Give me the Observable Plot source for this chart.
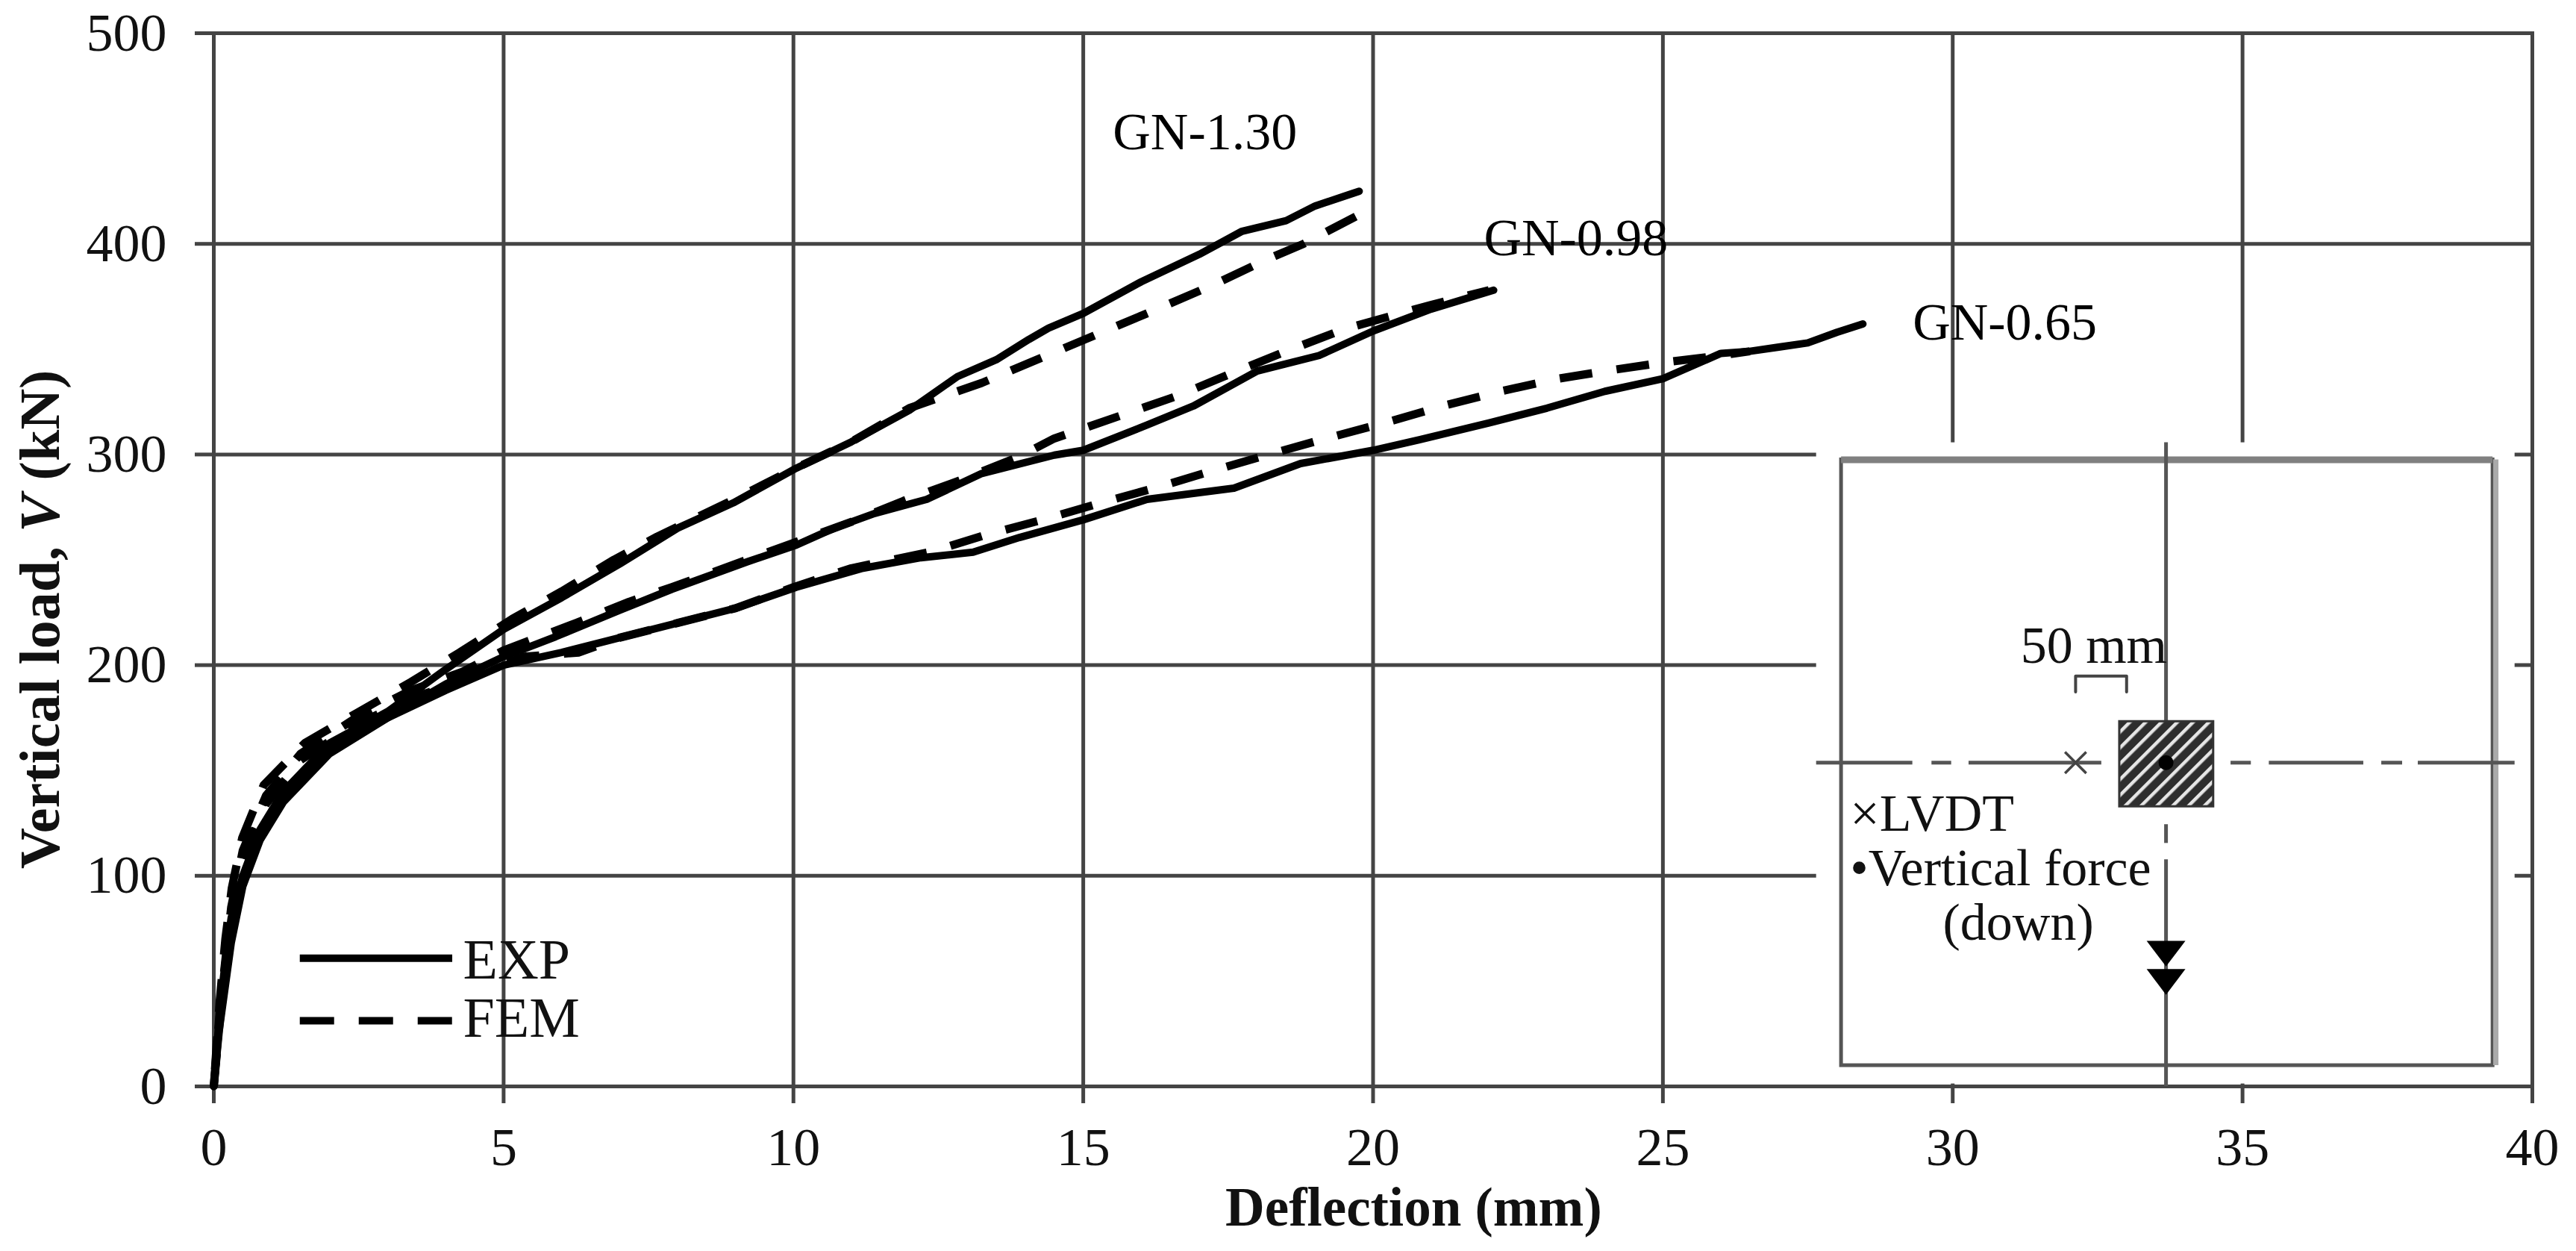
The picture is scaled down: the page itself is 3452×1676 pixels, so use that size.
<!DOCTYPE html>
<html>
<head>
<meta charset="utf-8">
<script src="https://cdn.jsdelivr.net/npm/d3@7"></script>
<script src="https://cdn.jsdelivr.net/npm/@observablehq/plot@0.6"></script>
<style>
html,body{margin:0;padding:0;background:#fff;overflow:hidden}
svg{display:block}
</style>
</head>
<body>
<div id="chart"></div>
<script>
const xTicks = [0,5,10,15,20,25,30,35,40];
const yTicks = [0,100,200,300,400,500];

const exp130X = [0,0.1,0.2,0.3,0.5,0.8,1.2,2,3,3.95,5,6,7,8,8.96,10.05,11,12,12.83,13.5,14.06,14.4,15,16,17,17.74,18.5,19,19.76];
const exp130Y = [0,35,60,80,100,122,140,163,178,197,217,232,248,265,277,293.5,306,321,337,345,354.6,360,367,382,395,406,411,418,425];
const fem130X = [0,0.1,0.2,0.31,0.49,0.86,1.57,2.45,3.4,4.24,5.15,6,6.9,7.65,9,10,11,12,13.25,14.2,15.2,16.1,17.2,18.2,18.8,19.7];
const fem130Y = [0,40,70,94,118,143,163,177,192,206,222,235,250,261,279,293,306,322,334,345,356.6,367,380,393,400,413];

const exp098X = [0,0.1,0.3,0.5,0.8,1.2,2,3,4,5,5.9,7,7.9,9.2,10.05,10.7,11.4,12.3,13.25,14.5,15,16.1,16.9,18,19.07,20,21,22.08];
const exp098Y = [0,30,70,98,120,138,160,175,191,204,213.5,226,236,249,257,265,272,278.7,291,299.7,302,314,323,339.6,347,358.6,369,378];
const fem098X = [0,0.1,0.3,0.5,0.9,1.5,2.4,3.4,4.3,5,6.25,7.16,7.9,9.2,10,11,11.9,12.9,13.9,14.5,15.67,16.64,17.6,18.5,19.5,20.47,21,22];
const fem098Y = [0,35,85,112,138,158,174,188,197,207,220,230,237,250,258,268,278,288,299,307.6,318.7,328,339,349,359.5,367,371,378];

const exp065X = [0,0.1,0.3,0.5,0.8,1.2,2,3,4,5,6,7,8,9,10.05,11.2,12.2,13.1,13.9,15,16.1,17.6,18.75,20,20.8,22,23,24,25,26,26.5,27,27.5,28,28.45];
const exp065Y = [0,28,68,95,117,135,158,175,188,200,206,213,220,227,237,246,251,253.6,260.6,269,278.7,284,295.7,302,307,315,322,330,336,348,349,351,353,358,362];
const fem065X = [0,0.1,0.3,0.5,0.9,1.5,2.4,3.4,4.4,5.35,6.3,7,8,9,10,11,12.4,13.3,14.3,15.3,16.3,17.2,18.2,19.2,20.2,21.2,22.2,23.2,24.1,25.1,26,26.5];
const fem065Y = [0,30,80,108,134,155,171,184,194,204,206,213,220,227,237,246,254,261.7,269,277,284.6,292,300,307.7,315,323,330,336,340,344,347,349];

const curveLabels = ["GN-1.30","GN-0.98","GN-0.65"];
const curveLabelX = [17.1,23.5,30.9];
const curveLabelY = [452.7,402.6,362.6];

const legendNames = ["EXP","FEM"];
const legendLineY = [60.9,31.2];
const legendTextY = [59.8,32.2];

const noteLabels = ["×LVDT","•Vertical force","(down)","50 mm"];
const noteX = [28.23,28.23,29.83,31.17];
const noteY = [129.2,103.4,77.5,209];

const crossX = 33.68, crossY = 153.7;
const hSegStart = [27.65,29.64,30.28,34.80,35.46,37.40,38.03];
const hSegEnd   = [29.31,29.98,32.57,35.15,37.09,37.76,39.70];
const vSegTop    = [305.6,124.3,107.6];
const vSegBottom = [173,115.4,0];
const arrowY = [63,49.6];

const gridColor = "#444", insetColor = "#555";
const serif = "'Liberation Serif','Times New Roman',serif";

const line = (xs, ys, opts) => Plot.line(xs.map((x,i)=>[x,ys[i]]), {x:d=>d[0], y:d=>d[1], stroke:"#000", strokeWidth:10, strokeLinejoin:"round", ...opts});
const dash = {strokeWidth:11, strokeDasharray:"44,33", strokeLinecap:"butt"};
const reversed = a => a.slice().reverse();

const downTriangle = {draw(ctx,size){const r=Math.sqrt(size/Math.PI);ctx.moveTo(-r,-0.66*r);ctx.lineTo(r,-0.66*r);ctx.lineTo(0,0.66*r);ctx.closePath();}};

const plot = Plot.plot({
  width:3452, height:1676,
  marginLeft:286, marginRight:59, marginTop:44, marginBottom:221,
  style:{fontFamily:serif, background:"#fff", overflow:"visible"},
  x:{domain:[0,40], label:null},
  y:{domain:[0,500], label:null},
  marks:[
    Plot.gridX(xTicks,{stroke:gridColor,strokeOpacity:1,strokeWidth:5}),
    Plot.gridY(yTicks,{stroke:gridColor,strokeOpacity:1,strokeWidth:5}),
    // white panel behind the inset
    Plot.rect([0],{x1:()=>27.65,x2:()=>39.7,y1:()=>1.2,y2:()=>305.6,fill:"#fff"}),
    Plot.frame({stroke:gridColor,strokeWidth:5}),
    Plot.axisX({ticks:xTicks,tickSize:23,tickPadding:31,fontSize:72,stroke:gridColor,strokeWidth:5,fill:"#111",label:null}),
    Plot.axisY({ticks:yTicks,tickSize:25,tickPadding:38,fontSize:72,stroke:gridColor,strokeWidth:5,fill:"#111",label:null}),

    // curves
    line(exp130X,exp130Y), line(reversed(fem130X),reversed(fem130Y),dash),
    line(exp098X,exp098Y), line(fem098X,fem098Y,dash),
    line(exp065X,exp065Y), line(fem065X,fem065Y,dash),

    Plot.text(curveLabels,{x:curveLabelX,y:curveLabelY,text:d=>d,fontSize:70,fill:"#000"}),

    // legend
    Plot.ruleY([legendLineY[0]],{x1:()=>1.49,x2:()=>4.12,stroke:"#000",strokeWidth:10}),
    Plot.ruleY([legendLineY[1]],{x1:()=>1.49,x2:()=>4.12,stroke:"#000",strokeWidth:10,strokeDasharray:"46,33"}),
    Plot.text(legendNames,{x:()=>4.3,y:legendTextY,text:d=>d,fontSize:76,textAnchor:"start",fill:"#111"}),

    // inset
    Plot.rect([0],{x1:()=>28.08,x2:()=>39.32,y1:()=>9.9,y2:()=>297.5,fill:"none",stroke:insetColor,strokeWidth:5}),
    Plot.ruleY([297.5],{x1:()=>28.08,x2:()=>39.32,stroke:"#808080",strokeWidth:9}),
    Plot.ruleX([39.37],{y1:()=>9.9,y2:()=>297.5,stroke:"#aaa",strokeWidth:7}),
    Plot.ruleY(hSegStart,{y:()=>crossY,x1:hSegStart,x2:hSegEnd,stroke:insetColor,strokeWidth:5}),
    Plot.ruleX(vSegTop,{x:()=>crossX,y1:vSegTop,y2:vSegBottom,stroke:insetColor,strokeWidth:5}),
    Plot.rect([0],{x1:()=>32.88,x2:()=>34.50,y1:()=>132.8,y2:()=>173.2,fill:"url(#hatch)",stroke:"#333",strokeWidth:3}),
    Plot.dot([crossX],{x:d=>d,y:()=>crossY,r:10,fill:"#000",stroke:"none"}),
    Plot.dot([32.12],{x:d=>d,y:()=>crossY,symbol:"times",r:13,stroke:"#444",strokeWidth:3.5}),
    Plot.line([[32.12,187.3],[32.12,194.8],[33.0,194.8],[33.0,187.3]],{x:d=>d[0],y:d=>d[1],stroke:"#444",strokeWidth:4}),
    Plot.dot(arrowY,{x:()=>crossX,y:d=>d,r:26,symbol:downTriangle,fill:"#000",stroke:"none"}),
    Plot.text(noteLabels,{x:noteX,y:noteY,text:d=>d,fontSize:70,textAnchor:"start",fill:"#111"}),

    // axis titles
    Plot.text(["Deflection (mm)"],{x:()=>20.7,y:()=>-57.7,text:d=>d,fontSize:73,fontWeight:"bold",fill:"#111"}),
    Plot.text(["Vertical load, V (kN)"],{x:()=>-2.99,y:()=>221.7,text:d=>d,fontSize:76,fontWeight:"bold",rotate:-90,fill:"#111"})
  ]
});

// hatch pattern for the loaded area
const defs = d3.select(plot).insert("defs",":first-child");
const pat = defs.append("pattern").attr("id","hatch").attr("patternUnits","userSpaceOnUse")
  .attr("width",15).attr("height",15).attr("patternTransform","rotate(-45)");
pat.append("rect").attr("width",15).attr("height",15).attr("fill","#2e2e2e");
pat.append("rect").attr("y",0).attr("width",15).attr("height",4.5).attr("fill","#e6e6e6");

// italic V in the vertical axis title
d3.select(plot).selectAll("text").filter(function(){return this.textContent==="Vertical load, V (kN)";})
  .each(function(){
    const t=d3.select(this);
    const host=t.select("tspan").empty()?t:t.select("tspan");
    host.text("");
    host.append("tspan").text("Vertical load, ");
    host.append("tspan").attr("font-style","italic").text("V");
    host.append("tspan").text(" (kN)");
  });

document.getElementById("chart").appendChild(plot);
</script>
</body>
</html>
